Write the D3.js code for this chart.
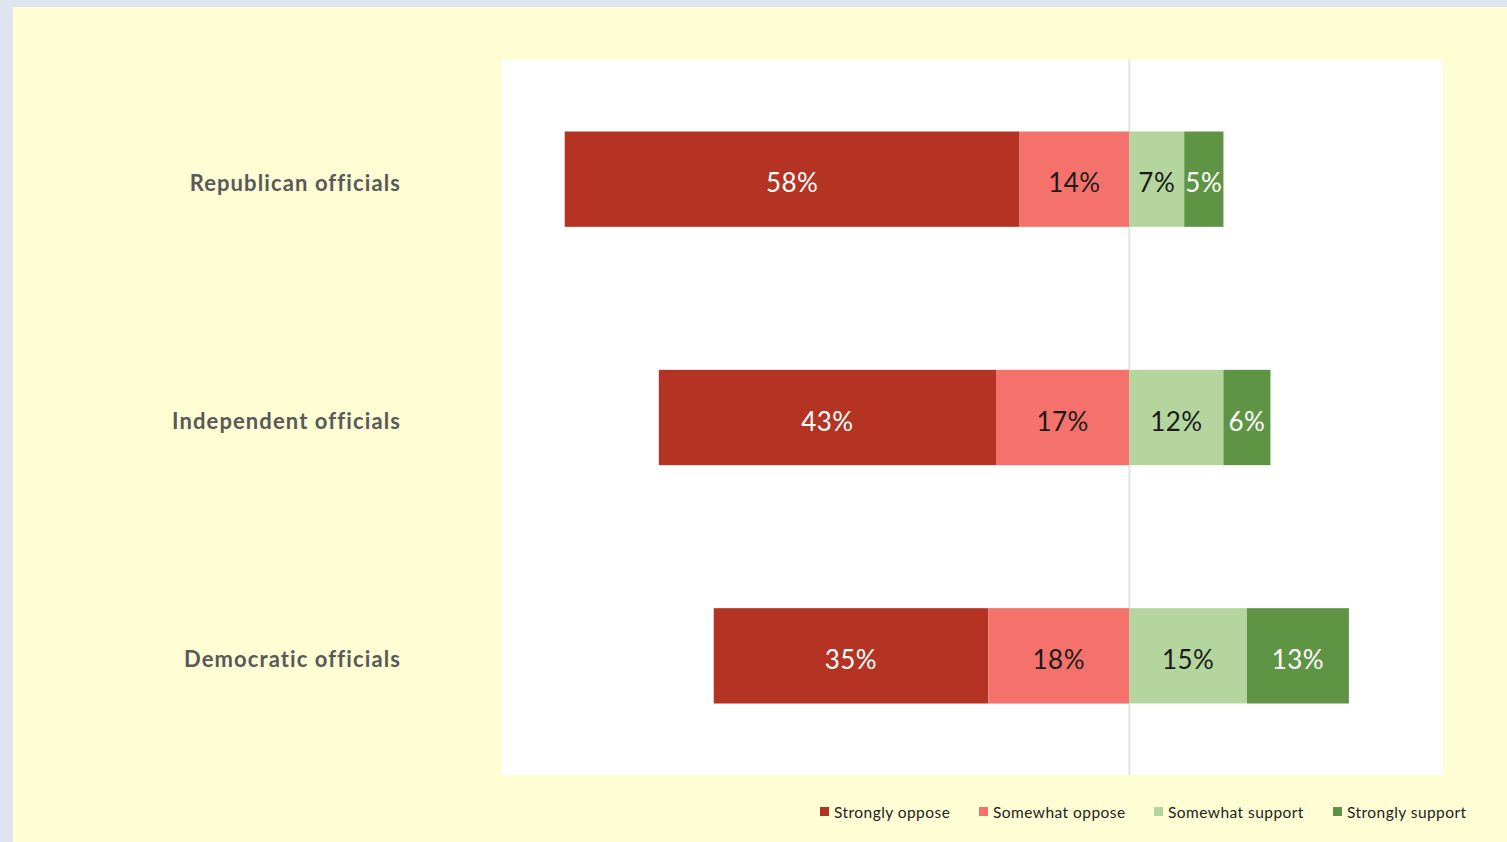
<!DOCTYPE html>
<html><head><meta charset="utf-8">
<script src="https://cdn.jsdelivr.net/npm/d3@7"></script>
<style>html,body{margin:0;padding:0;background:#dfe5f0;overflow:hidden}</style>
</head><body>
<script>
const categories = ["Republican officials", "Independent officials", "Democratic officials"];
const seriesNames = ["Strongly oppose", "Somewhat oppose", "Somewhat support", "Strongly support"];
const stronglyOppose = [58, 43, 35];
const somewhatOppose = [14, 17, 18];
const somewhatSupport = [7, 12, 15];
const stronglySupport = [5, 6, 13];
const colors = ["#B43323", "#F4726B", "#B4D59D", "#5F9444"];
const labelColors = ["#ffffff", "#1a1a1a", "#1a1a1a", "#ffffff"];

const W = 1507, H = 842;
const svg = d3.select("body").append("svg").attr("width", W).attr("height", H);
svg.append("rect").attr("width", W).attr("height", H).attr("fill", "#dfe5f0");
svg.append("rect").attr("x", 13).attr("y", 7).attr("width", W - 13).attr("height", H - 7).attr("fill", "#FFFDD3");

const plot = {x0: 502, x1: 1443, y0: 60, y1: 775};
svg.append("rect").attr("x", plot.x0).attr("y", plot.y0).attr("width", plot.x1 - plot.x0).attr("height", plot.y1 - plot.y0).attr("fill", "#ffffff");

const x = d3.scaleLinear().domain([-80, 40]).range([plot.x0, plot.x1]);
const y = d3.scaleBand().domain(categories).range([plot.y0, plot.y1]).paddingInner(0.6).paddingOuter(0.3);

const data = categories.map((c, i) => {
  const vals = [stronglyOppose[i], somewhatOppose[i], somewhatSupport[i], stronglySupport[i]];
  const segs = [];
  segs.push({s: 0, a: -(vals[0] + vals[1]), b: -vals[1], v: vals[0]});
  segs.push({s: 1, a: -vals[1], b: 0, v: vals[1]});
  segs.push({s: 2, a: 0, b: vals[2], v: vals[2]});
  segs.push({s: 3, a: vals[2], b: vals[2] + vals[3], v: vals[3]});
  return {c, segs};
});

// center line
svg.append("line").attr("x1", x(0)).attr("x2", x(0)).attr("y1", plot.y0).attr("y2", plot.y1)
  .attr("stroke", "#e4e4e4").attr("stroke-width", 2);

const g = svg.append("g");
data.forEach(d => {
  d.segs.forEach(s => {
    g.append("rect").attr("x", x(s.a)).attr("y", y(d.c)).attr("width", x(s.b) - x(s.a)).attr("height", y.bandwidth())
      .attr("fill", colors[s.s]);
    g.append("text").attr("x", (x(s.a) + x(s.b)) / 2).attr("y", y(d.c) + y.bandwidth() / 2 + 3)
      .attr("text-anchor", "middle").attr("dominant-baseline", "central")
      .attr("font-family", "Lato, 'Open Sans', sans-serif").attr("font-size", 26)
      .attr("letter-spacing", 0.5)
      .attr("fill", labelColors[s.s]).text(s.v + "%");
  });
});

// category labels
categories.forEach(c => {
  svg.append("text").attr("x", 401).attr("y", y(c) + y.bandwidth() / 2 + 3)
    .attr("text-anchor", "end").attr("dominant-baseline", "central")
    .attr("font-family", "Lato, 'Open Sans', sans-serif").attr("font-weight", "bold").attr("font-size", 22)
    .attr("letter-spacing", 1.1)
    .attr("fill", "#595959").text(c);
});

// legend
const legX = [820, 979, 1154, 1333];
seriesNames.forEach((n, i) => {
  svg.append("rect").attr("x", legX[i]).attr("y", 807).attr("width", 9).attr("height", 9).attr("fill", colors[i]);
  svg.append("text").attr("x", legX[i] + 14).attr("y", 812).attr("dominant-baseline", "central")
    .attr("font-family", "Lato, 'Open Sans', sans-serif").attr("font-size", 15.5)
    .attr("letter-spacing", 0.45)
    .attr("fill", "#222").text(n);
});
</script>
</body></html>
